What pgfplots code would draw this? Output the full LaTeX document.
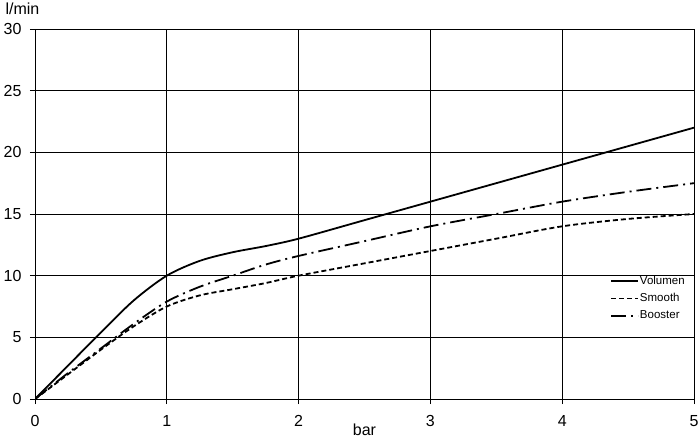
\documentclass[border=0pt]{standalone}
\usepackage{pgfplots}
\pgfplotsset{compat=1.18}
\usepackage{fontspec}
\setmainfont{Liberation Sans}

\begin{document}
\begin{tikzpicture}
\begin{axis}[
    scale only axis,
    width=659pt, height=370pt,
    xmin=0, xmax=5,
    ymin=0, ymax=30,
    xtick={0,1,2,3,4,5},
    ytick={0,5,10,15,20,25,30},
    axis lines*=left,
    axis line style={black, line width=0.9pt},
    tick align=outside,
    major tick length=5pt,
    tick style={black, line width=0.9pt},
    grid=major,
    grid style={black, line width=0.9pt},
    /pgf/number format/assume math mode=true,
    tick label style={font=\fontsize{16}{18}\selectfont},
    yticklabel style={xshift=-5pt},
    xticklabel style={yshift=-8pt},
    xlabel={bar},
    xlabel style={font=\fontsize{16}{18}\selectfont, anchor=base, at={(rel axis cs:0.5,0)}, yshift=-37pt},
    ylabel={l/min},
    ylabel style={font=\fontsize{16}{18}\selectfont, rotate=-90, anchor=base west, at={(rel axis cs:0,1)}, xshift=-33pt, yshift=14pt},
    legend style={draw=none, fill=none, at={(rel axis cs:0.8725,0.335)}, anchor=north west,
        font=\fontsize{11.5}{13}\selectfont, row sep=5.5pt,
        inner sep=0pt, nodes={inner sep=1pt}},
    legend cell align=left,
    legend image code/.code={\draw[#1, line width=1.8pt] (0pt,0pt) -- (27pt,0pt);},
]

\addplot[black, line width=1.8pt, smooth, tension=0.5] coordinates {
    (0,0)(0.25,2.7)(0.5,5.4)(0.75,8)(1,10)(1.25,11.2)(1.5,11.9)(1.75,12.4)(2,13)(2.5,14.5)(3,16)(4,19)(5,22)
};
\addplot[black, line width=1.8pt, smooth, tension=0.5, dash pattern=on 5pt off 3pt] coordinates {
    (0,0)(0.25,2)(0.5,4)(0.75,5.9)(1,7.5)(1.25,8.4)(1.5,8.9)(1.75,9.4)(2,10)(2.5,11)(3,12)(3.5,13)(4,14)(4.5,14.6)(5,15)
};
\addplot[black, line width=1.8pt, smooth, tension=0.5, dash pattern=on 15pt off 5pt on 2pt off 5pt] coordinates {
    (0,0)(0.25,2.1)(0.5,4.1)(0.75,6.1)(1,7.9)(1.25,9.1)(1.5,10)(1.75,10.9)(2,11.6)(2.5,12.8)(3,14)(3.5,15)(4,16)(4.5,16.8)(5,17.5)
};
\legend{Volumen, Smooth, Booster}
\end{axis}
\pgfresetboundingbox
\path[use as bounding box] ([xshift=-35pt,yshift=-39pt]current axis.south west) rectangle ([xshift=6pt,yshift=29pt]current axis.north east);
\end{tikzpicture}
\end{document}
